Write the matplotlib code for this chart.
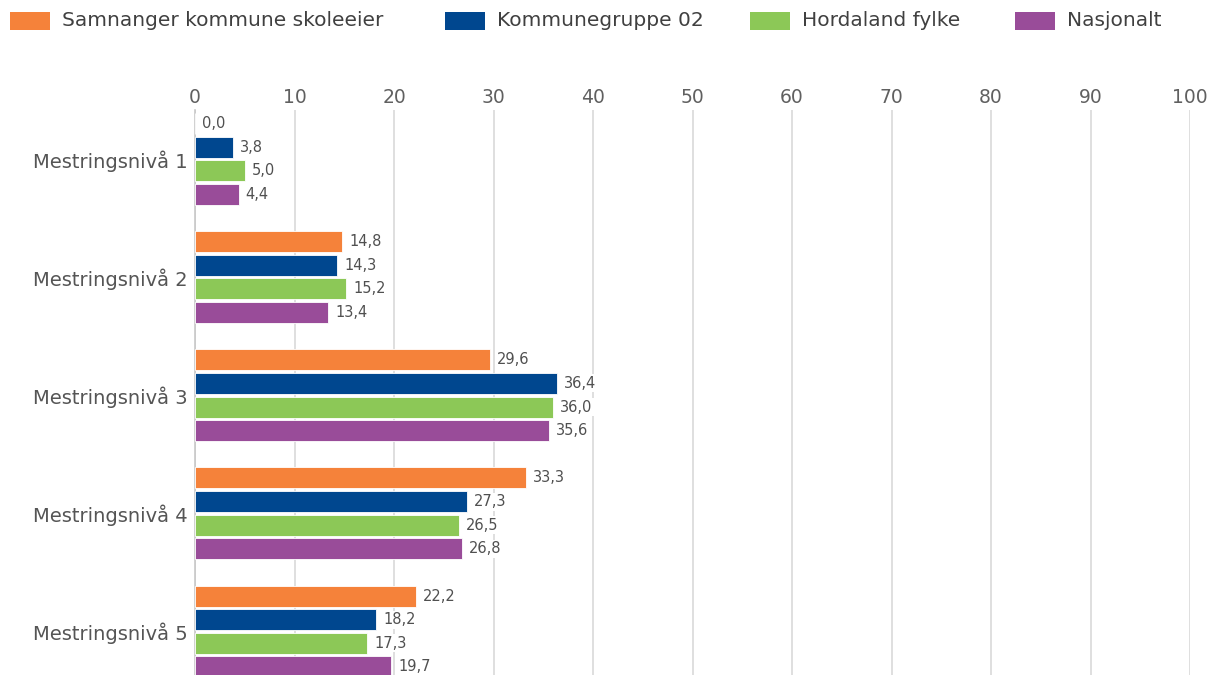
import matplotlib
matplotlib.use("Agg")
import matplotlib.pyplot as plt
from matplotlib.patches import Rectangle
import numpy as np

categories = ["Mestringsnivå 1", "Mestringsnivå 2", "Mestringsnivå 3", "Mestringsnivå 4", "Mestringsnivå 5"]
series_names = ["Samnanger kommune skoleeier", "Kommunegruppe 02", "Hordaland fylke", "Nasjonalt"]
samnanger = [0.0, 14.8, 29.6, 33.3, 22.2]
kommunegruppe = [3.8, 14.3, 36.4, 27.3, 18.2]
hordaland = [5.0, 15.2, 36.0, 26.5, 17.3]
nasjonalt = [4.4, 13.4, 35.6, 26.8, 19.7]
colors = ["#F5823A", "#00478F", "#8CC857", "#994C99"]
xticks = [0, 10, 20, 30, 40, 50, 60, 70, 80, 90, 100]

W, H = 1215, 675
fig = plt.figure(figsize=(W / 100, H / 100), dpi=100)
ax_left, ax_right, ax_top, ax_bottom = 195, 1190, 110, 675
ax = fig.add_axes([ax_left / W, 1 - ax_bottom / H, (ax_right - ax_left) / W, (ax_bottom - ax_top) / H])

values = [samnanger, kommunegruppe, hordaland, nasjonalt]
y = np.arange(len(categories))
step = 0.2
bh = 0.178
for k, (vals, col) in enumerate(zip(values, colors)):
    offs = (k - 1.5) * step
    ax.barh(y + offs, vals, height=bh, color=col, edgecolor="white", linewidth=0.6, zorder=3)
    for yi, v in zip(y + offs, vals):
        ax.annotate(f"{v:.1f}".replace(".", ","), (v, yi), xytext=(5, 0), textcoords="offset points",
                    ha="left", va="center", fontsize=10.5, color="#505050", zorder=4,
                    bbox=dict(boxstyle="square,pad=0.1", fc="white", ec="none"))

ax.set_xlim(0, 100)
ax.set_ylim(4 + (675 - 631.5) / 118.1, -49 / 118.1)
ax.set_xticks(xticks)
ax.xaxis.tick_top()
ax.tick_params(axis="x", length=0, pad=2, labelsize=13.5, labelcolor="#606060")
ax.set_yticks(y)
ax.set_yticklabels(categories)
ax.tick_params(axis="y", length=0, pad=5, labelsize=14, labelcolor="#555555")
ax.grid(axis="x", color="#D9D9D9", linewidth=1.2, zorder=0)
for s in ["top", "right", "bottom"]:
    ax.spines[s].set_visible(False)
ax.spines["left"].set_color("#C8C8C8")
ax.spines["left"].set_linewidth(1.2)

# legend
leg_x = [10, 445, 750, 1015]
for name, col, lx in zip(series_names, colors, leg_x):
    fig.patches.append(Rectangle((lx / W, 1 - 30 / H), 40 / W, 18 / H, transform=fig.transFigure,
                                 facecolor=col, edgecolor="none"))
    fig.text((lx + 52) / W, 1 - 21 / H, name, fontsize=14.5, color="#404040", va="center", ha="left")

fig.savefig("out.png", dpi=100)
